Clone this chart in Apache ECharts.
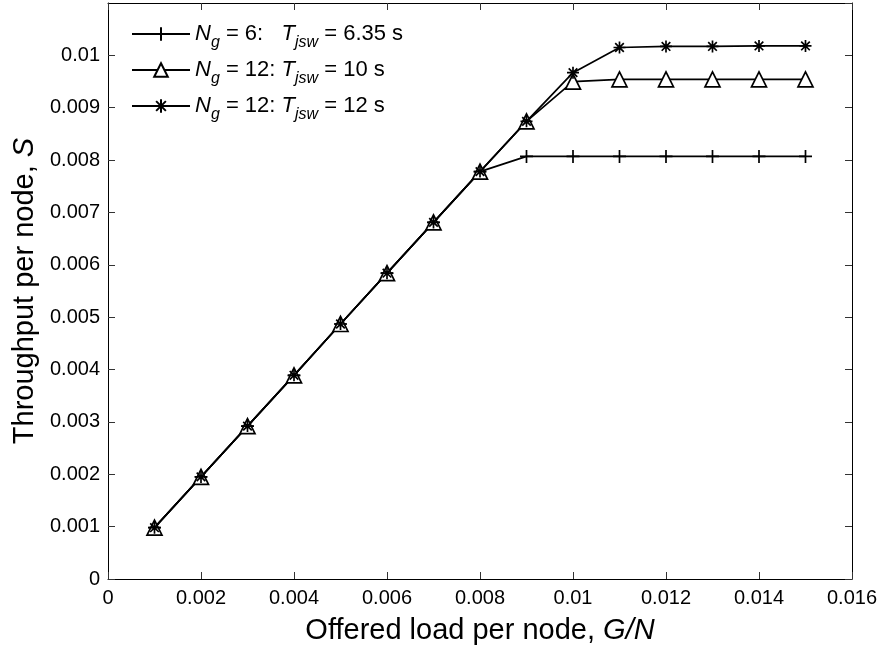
<!DOCTYPE html>
<html>
<head>
<meta charset="utf-8">
<script src="https://cdn.jsdelivr.net/npm/echarts@6/dist/echarts.min.js"></script>
<style>
  html, body { margin: 0; padding: 0; background: #fff; }
  #chart { width: 881px; height: 653px; }
</style>
</head>
<body>
<div id="chart"></div>
<script>
// Offered load per node G/N
const loads = [0.001, 0.002, 0.003, 0.004, 0.005, 0.006, 0.007, 0.008,
               0.009, 0.010, 0.011, 0.012, 0.013, 0.014, 0.015];

// Throughput per node S for each configuration
const throughputNg6 = [0.00098, 0.00195, 0.00292, 0.00389, 0.00487, 0.00584, 0.00681, 0.00778,
                       0.00807, 0.00807, 0.00807, 0.00807, 0.00807, 0.00807, 0.00807];
const throughputNg12T10 = [0.00098, 0.00195, 0.00292, 0.00389, 0.00487, 0.00584, 0.00681, 0.00778,
                           0.00874, 0.00950, 0.00954, 0.00954, 0.00954, 0.00954, 0.00954];
const throughputNg12T12 = [0.00098, 0.00195, 0.00292, 0.00389, 0.00487, 0.00584, 0.00681, 0.00778,
                           0.00874, 0.00967, 0.01015, 0.01017, 0.01017, 0.01018, 0.01018];

// Legend entries, written as rich text (italic symbols with subscripts)
const legendNames = ['Ng6-T6.35', 'Ng12-T10', 'Ng12-T12'];
const legendTexts = [
  '{i|N}{s|g}{r| = 6:   }{i|T}{s|jsw}{r| = 6.35 s}',
  '{i|N}{s|g}{r| = 12: }{i|T}{s|jsw}{r| = 10 s}',
  '{i|N}{s|g}{r| = 12: }{i|T}{s|jsw}{r| = 12 s}'
];

const xTicks = { min: 0, max: 0.016, interval: 0.002 };
const yTicks = { min: 0, max: 0.011, interval: 0.001 };

const FONT = '"Liberation Sans", Arial, Helvetica, sans-serif';

const plusPath = 'path://M0,-6L0,6M-6,0L6,0';
const starPath = 'path://M0,-6L0,6M-6,0L6,0M-4.3,-4.3L4.3,4.3M-4.3,4.3L4.3,-4.3';

function pairs(ys) { return loads.map((x, i) => [x, ys[i]]); }

const chart = echarts.init(document.getElementById('chart'), null, { renderer: 'canvas' });

const tickStyle = { show: true, inside: true, length: 7, lineStyle: { color: '#333', width: 1 } };
const lineAxis = { show: true, onZero: false, lineStyle: { color: '#000', width: 1 } };

const titleRich = {
  r: { fontFamily: FONT, fontSize: 29, color: '#000', lineHeight: 34 },
  i: { fontFamily: FONT, fontSize: 29, color: '#000', lineHeight: 34, fontStyle: 'italic' }
};

const option = {
  backgroundColor: '#fff',
  animation: false,
  grid: { left: 108, right: 29, top: 3, bottom: 74, containLabel: false },
  legend: {
    orient: 'vertical',
    left: 131,
    top: 17,
    padding: 0,
    itemWidth: 58,
    itemHeight: 17,
    itemGap: 2,
    data: legendNames,
    formatter: function (name) { return legendTexts[legendNames.indexOf(name)]; },
    textStyle: {
      fontFamily: FONT,
      color: '#000',
      rich: {
        i: { fontFamily: FONT, fontSize: 22, fontStyle: 'italic', color: '#000', lineHeight: 24, verticalAlign: 'middle' },
        r: { fontFamily: FONT, fontSize: 22, color: '#000', lineHeight: 24, verticalAlign: 'middle' },
        s: { fontFamily: FONT, fontSize: 16, fontStyle: 'italic', color: '#000', lineHeight: 16, padding: [18, 0, 0, 0], verticalAlign: 'middle' }
      }
    }
  },
  xAxis: [{
    type: 'value', position: 'bottom',
    min: xTicks.min, max: xTicks.max, interval: xTicks.interval,
    axisLine: lineAxis, axisTick: tickStyle, splitLine: { show: false },
    axisLabel: { color: '#000', fontFamily: FONT, fontSize: 20, margin: 9 },
    name: '{r|Offered load per node, }{i|G/N}',
    nameLocation: 'middle', nameGap: 35,
    nameTextStyle: { rich: titleRich }
  }, {
    type: 'value', position: 'top',
    min: xTicks.min, max: xTicks.max, interval: xTicks.interval,
    axisLine: lineAxis, axisTick: tickStyle, splitLine: { show: false },
    axisLabel: { show: false }
  }],
  yAxis: [{
    type: 'value', position: 'left',
    min: yTicks.min, max: yTicks.max, interval: yTicks.interval,
    axisLine: lineAxis, axisTick: tickStyle, splitLine: { show: false },
    axisLabel: { color: '#000', fontFamily: FONT, fontSize: 20, margin: 8, showMaxLabel: false },
    name: '{r|Throughput per node, }{i|S}',
    nameLocation: 'middle', nameGap: 64,
    nameTextStyle: { rich: titleRich }
  }, {
    type: 'value', position: 'right',
    min: yTicks.min, max: yTicks.max, interval: yTicks.interval,
    axisLine: lineAxis, axisTick: tickStyle, splitLine: { show: false },
    axisLabel: { show: false }
  }],
  series: [{
    name: legendNames[0], type: 'line', data: pairs(throughputNg6),
    symbol: plusPath, symbolSize: 13,
    lineStyle: { color: '#000', width: 1.7 },
    itemStyle: { color: '#000', borderColor: '#000', borderWidth: 1.7 }
  }, {
    name: legendNames[1], type: 'line', data: pairs(throughputNg12T10),
    symbol: 'triangle', symbolSize: 15,
    lineStyle: { color: '#000', width: 1.7 },
    itemStyle: { color: '#fff', borderColor: '#000', borderWidth: 1.7 }
  }, {
    name: legendNames[2], type: 'line', data: pairs(throughputNg12T12),
    symbol: starPath, symbolSize: 12,
    lineStyle: { color: '#000', width: 1.7 },
    itemStyle: { color: '#000', borderColor: '#000', borderWidth: 1.7 }
  }]
};

chart.setOption(option);
</script>
</body>
</html>
